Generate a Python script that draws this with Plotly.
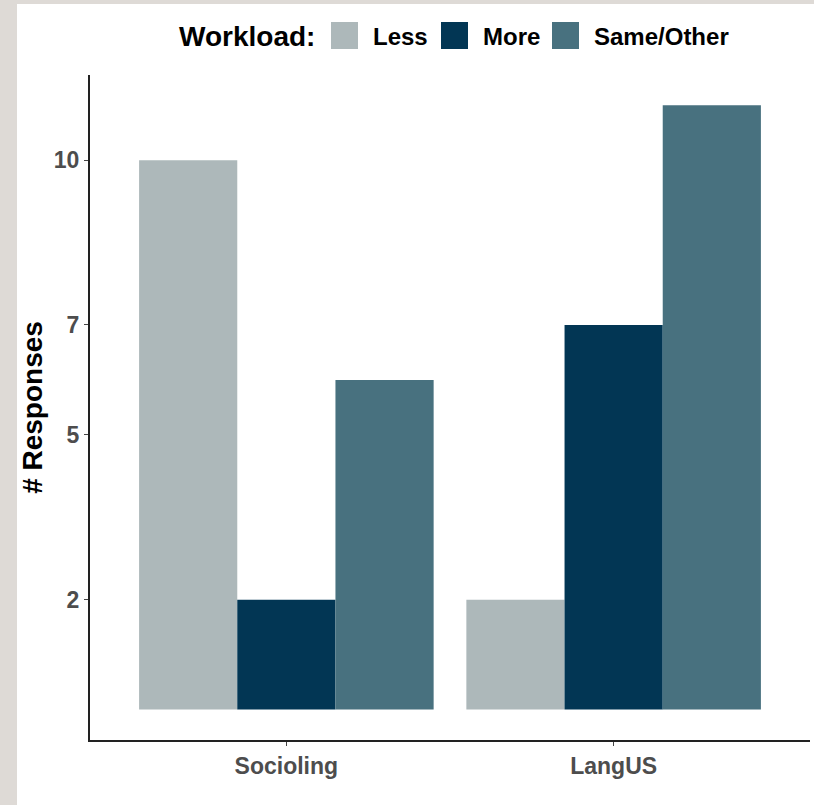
import plotly.graph_objects as go

categories = ["Socioling", "LangUS"]
series_names = ["Less", "More", "Same/Other"]
less_values = [10, 2]
more_values = [2, 7]
same_values = [6, 11]
series_colors = ["#adb8ba", "#023654", "#48717f"]
y_tick_values = [2, 5, 7, 10]
legend_title = "Workload:"
y_title = "# Responses"

W, H = 814, 805
L, R, T, B = 90, 4, 75, 65
PW, PH = W - L - R, H - T - B


def px(x):
    return (x - L) / PW


def py(y):
    return (H - B - y) / PH


FONT = "Liberation Sans, Arial, sans-serif"

fig = go.Figure()
for name, vals, col in zip(series_names, [less_values, more_values, same_values], series_colors):
    fig.add_trace(go.Bar(x=categories, y=vals, name=name, marker=dict(color=col, line=dict(width=0)),
                         showlegend=False))

shapes = [
    # grey frame strips
    dict(type="rect", xref="paper", yref="paper", x0=px(0), x1=px(17), y0=py(H), y1=py(0),
         fillcolor="#dedad6", line=dict(width=0), layer="below"),
    dict(type="rect", xref="paper", yref="paper", x0=px(0), x1=px(W), y0=py(4), y1=py(0),
         fillcolor="#dedad6", line=dict(width=0), layer="below"),
]
annotations = [
    dict(text="<b>" + legend_title + "</b>", xref="paper", yref="paper", x=px(317), y=py(36),
         xanchor="right", yanchor="middle", showarrow=False, font=dict(family=FONT, size=28, color="#000000")),
]
sq_x = [331, 441, 552]
txt_x = [371, 481, 592]
for name, col, sx, tx in zip(series_names, series_colors, sq_x, txt_x):
    shapes.append(dict(type="rect", xref="paper", yref="paper", x0=px(sx), x1=px(sx + 27),
                       y0=py(49), y1=py(22), fillcolor=col, line=dict(width=0)))
    annotations.append(dict(text="<b>" + name + "</b>", xref="paper", yref="paper", x=px(tx), y=py(36),
                            xanchor="left", yanchor="middle", showarrow=False,
                            font=dict(family=FONT, size=24, color="#000000")))

fig.update_layout(
    width=W, height=H,
    margin=dict(l=L, r=R, t=T, b=B),
    paper_bgcolor="#ffffff", plot_bgcolor="rgba(0,0,0,0)",
    barmode="group", bargap=0.1, bargroupgap=0,
    font=dict(family=FONT),
    shapes=shapes, annotations=annotations,
    xaxis=dict(range=[-0.6, 1.6], showgrid=False, zeroline=False, showline=True,
               linecolor="#222222", linewidth=2, ticks="outside", ticklen=4, tickcolor="#444444",
               tickwidth=1, tickfont=dict(family=FONT, size=23, color="#4d4d4d"),
               tickvals=categories, ticktext=["<b>%s</b>" % c for c in categories]),
    yaxis=dict(range=[-0.555, 11.55], showgrid=False, zeroline=False, showline=True,
               linecolor="#222222", linewidth=2, ticks="outside", ticklen=4, tickcolor="#444444",
               tickwidth=1, tickvals=y_tick_values, ticktext=["<b>%d</b>" % v for v in y_tick_values],
               tickfont=dict(family=FONT, size=23, color="#4d4d4d"),
               title=dict(text="<b>" + y_title + "</b>", font=dict(family=FONT, size=28, color="#000000"),
                          standoff=3)),
)

fig.write_html("out.html", config={"displayModeBar": False},
               post_script="document.body.style.margin='0px';document.body.style.overflow='hidden';")
